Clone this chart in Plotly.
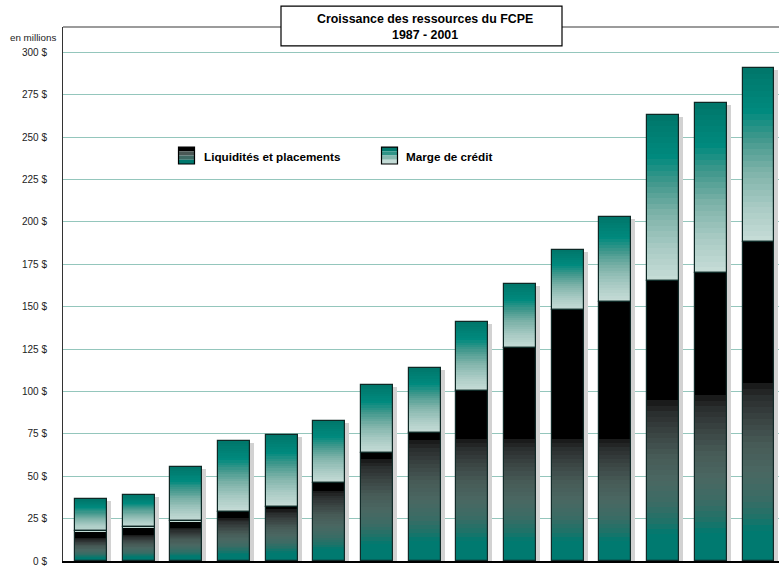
import plotly.graph_objects as go

# ---------------- data ----------------
years = [str(y) for y in range(1987, 2002)]
liquidites = [17.5, 20, 23.5, 29, 32, 46, 63.5, 75.5, 100.5, 125.5, 148, 153, 165, 170, 188]
marge_credit = [19, 19, 32, 41.5, 42.5, 36.5, 40.5, 38.5, 40.5, 38, 35.5, 50, 98, 100, 103]
y_ticks = list(range(0, 301, 25))
y_tick_labels = [f"{v} $" for v in y_ticks]
series_names = ["Liquidités et placements", "Marge de crédit"]
title_lines = ["Croissance des ressources du FCPE", "1987 - 2001"]
unit_label = "en millions"

# ---------------- style ----------------
# height (in $M) where the teal-to-black fade of the lower segment ends (black above)
liq_fade_top = [13.5, 15.5, 19.6, 25.6, 30.5, 41.3, 60.1, 71.6, 72, 72, 72, 72, 94.7, 97.7, 105]

W, H = 779, 567
ML, MR, MT, MB = 63, 0, 27, 4
PW, PH = W - ML - MR, H - MT - MB
BAR_W = 0.671
X_RANGE = [-0.587, 14.43]
Y_RANGE = [0, 315]
FONT = "Liberation Sans, Arial, sans-serif"

low_stops = [(0.00, "#007a70"), (0.17, "#007a70"), (0.24, "#1e7268"), (0.36, "#3b6c65"),
             (0.50, "#4a6762"), (0.65, "#475b57"), (0.80, "#394342"), (0.92, "#2a2e2e"),
             (1.00, "#161616")]
up_stops = [(0.00, "#c8ddd8"), (0.20, "#a9cbc4"), (0.40, "#7fb3aa"), (0.60, "#3f978b"),
            (0.75, "#008a7e"), (1.00, "#00766a")]


def hex2rgb(h):
    h = h.lstrip("#")
    return tuple(int(h[i:i + 2], 16) for i in (0, 2, 4))


def interp(stops, t):
    for (t0, c0), (t1, c1) in zip(stops[:-1], stops[1:]):
        if t <= t1:
            f = 0 if t1 == t0 else (t - t0) / (t1 - t0)
            a, b = hex2rgb(c0), hex2rgb(c1)
            return "rgb(%d,%d,%d)" % tuple(round(a[i] + (b[i] - a[i]) * f) for i in range(3))
    return stops[-1][1]


def px_x(p):
    return (p - ML) / PW


def px_y(p):
    return (H - MB - p) / PH


fig = go.Figure()
px_per_cat = PW / (X_RANGE[1] - X_RANGE[0])
px_per_unit = PH / (Y_RANGE[1] - Y_RANGE[0])
totals = [a + b for a, b in zip(liquidites, marge_credit)]

# shadow
fig.add_trace(go.Bar(
    x=years, y=[t - 2 / px_per_unit for t in totals], base=[0] * len(years),
    width=BAR_W, offset=-BAR_W / 2 + 4 / px_per_cat,
    marker=dict(color="#d2d2d2", line=dict(width=0)), hoverinfo="skip", showlegend=False))

N = 30
# lower segment fade
for k in range(N):
    fig.add_trace(go.Bar(
        x=years, y=[g / N for g in liq_fade_top], base=[g * k / N for g in liq_fade_top],
        width=BAR_W, marker=dict(color=interp(low_stops, (k + 0.5) / N), line=dict(width=0)),
        hoverinfo="skip", showlegend=False))
# lower segment black part
fig.add_trace(go.Bar(
    x=years, y=[l - g for l, g in zip(liquidites, liq_fade_top)], base=liq_fade_top,
    width=BAR_W, marker=dict(color="#000000", line=dict(width=0)),
    name=series_names[0], showlegend=False))
# upper segment fade
for k in range(N):
    fig.add_trace(go.Bar(
        x=years, y=[m / N for m in marge_credit],
        base=[l + m * k / N for l, m in zip(liquidites, marge_credit)],
        width=BAR_W, marker=dict(color=interp(up_stops, (k + 0.5) / N), line=dict(width=0)),
        hoverinfo="skip", showlegend=False))
# outlines
fig.add_trace(go.Bar(
    x=years, y=liquidites, base=[0] * len(years), width=BAR_W,
    marker=dict(color="rgba(0,0,0,0)", line=dict(width=1.2, color="#122a28")),
    name=series_names[0], showlegend=False))
fig.add_trace(go.Bar(
    x=years, y=marge_credit, base=liquidites, width=BAR_W,
    marker=dict(color="rgba(0,0,0,0)", line=dict(width=1.2, color="#0e2825")),
    name=series_names[1], showlegend=False))

shapes = []
# top frame line
shapes.append(dict(type="line", xref="paper", yref="paper", x0=0, x1=1, y0=1, y1=1,
                   line=dict(color="#7a7a7a", width=1.5), layer="above"))
# title box
shapes.append(dict(type="rect", xref="paper", yref="paper",
                   x0=px_x(281), x1=px_x(562), y0=px_y(46), y1=px_y(6),
                   fillcolor="white", line=dict(color="#000000", width=1.2), layer="above"))


# legend icons
def icon(x0px, colors):
    x1px = x0px + 16
    y0px, y1px = 147.5, 164.5
    n = len(colors)
    for i, c in enumerate(colors):
        ya = y0px + (y1px - y0px) * i / n
        yb = y0px + (y1px - y0px) * (i + 1) / n
        shapes.append(dict(type="rect", xref="paper", yref="paper",
                           x0=px_x(x0px), x1=px_x(x1px), y0=px_y(yb), y1=px_y(ya),
                           fillcolor=c, line=dict(width=0), layer="above"))
    shapes.append(dict(type="rect", xref="paper", yref="paper",
                       x0=px_x(x0px), x1=px_x(x1px), y0=px_y(y1px), y1=px_y(y0px),
                       fillcolor="rgba(0,0,0,0)", line=dict(color="#000000", width=1.2),
                       layer="above"))


icon(178.5, ["#000000", "#4a5855", "#3f6a64", "#00786e"])
icon(381.5, ["#00786c", "#2f9487", "#86b8af", "#c3dbd6"])

annotations = [
    dict(text="<b>%s</b>" % title_lines[0], xref="paper", yref="paper", x=px_x(425.5), y=px_y(19),
         showarrow=False, font=dict(family=FONT, size=12.4, color="#000"), xanchor="center", yanchor="middle"),
    dict(text="<b>%s</b>" % title_lines[1], xref="paper", yref="paper", x=px_x(425.5), y=px_y(35),
         showarrow=False, font=dict(family=FONT, size=12.4, color="#000"), xanchor="center", yanchor="middle"),
    dict(text=unit_label, xref="paper", yref="paper", x=px_x(57.5), y=px_y(38),
         showarrow=False, font=dict(family=FONT, size=9.8, color="#222"), xanchor="right", yanchor="middle"),
    dict(text="<b>%s</b>" % series_names[0], xref="paper", yref="paper", x=px_x(202), y=px_y(157),
         showarrow=False, font=dict(family=FONT, size=11.7, color="#000"), xanchor="left", yanchor="middle"),
    dict(text="<b>%s</b>" % series_names[1], xref="paper", yref="paper", x=px_x(404), y=px_y(157),
         showarrow=False, font=dict(family=FONT, size=11.7, color="#000"), xanchor="left", yanchor="middle"),
]

fig.update_layout(
    width=W, height=H, autosize=False,
    margin=dict(l=ML, r=MR, t=MT, b=MB, pad=0),
    paper_bgcolor="white", plot_bgcolor="white",
    barmode="overlay", bargap=0, bargroupgap=0,
    showlegend=False,
    shapes=shapes, annotations=annotations,
    xaxis=dict(type="category", range=X_RANGE, showticklabels=False, ticks="",
               showgrid=False, zeroline=False, showline=True, linecolor="#000000", linewidth=2,
               fixedrange=True),
    yaxis=dict(range=Y_RANGE, tickmode="array", tickvals=y_ticks, ticktext=y_tick_labels,
               showgrid=True, gridcolor="#94c6bc", gridwidth=1, zeroline=False,
               showline=True, linecolor="#333333", linewidth=1, ticks="", ticklabelstandoff=13,
               ticklabeloverflow="allow",
               tickfont=dict(family=FONT, size=10, color="#222"), fixedrange=True),
)

fig.write_html("out.html")
